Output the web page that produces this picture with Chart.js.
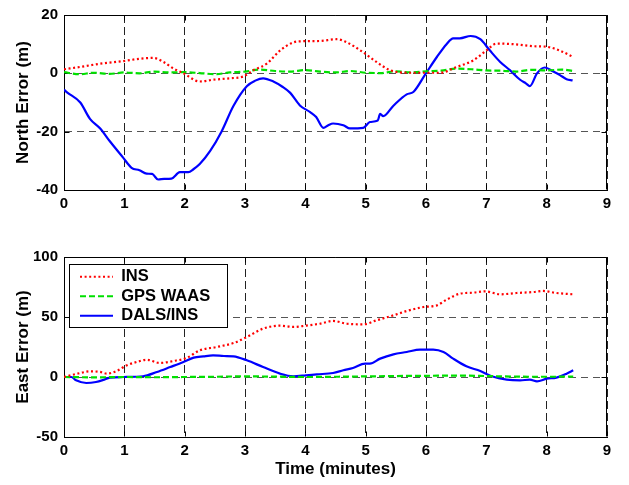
<!DOCTYPE html>
<html>
<head>
<meta charset="utf-8">
<script src="https://cdn.jsdelivr.net/npm/chart.js@4.4.1/dist/chart.umd.min.js"></script>
<style>
  html, body { margin: 0; padding: 0; background: #fff; }
  #wrap { position: relative; width: 629px; height: 485px; }
  #topBox { position: absolute; left: 0; top: 0; width: 629px; height: 230px; }
  #botBox { position: absolute; left: 0; top: 230px; width: 629px; height: 255px; }
</style>
</head>
<body>
<div id="wrap">
  <div id="topBox"><canvas id="northChart" width="629" height="230"></canvas></div>
  <div id="botBox"><canvas id="eastChart" width="629" height="255"></canvas></div>
</div>
<script>
// ---- data (time in minutes, errors in metres) ----
const labels = ['INS', 'GPS WAAS', 'DALS/INS'];

// North error
const northInsT = [0, 0.27, 0.6, 0.98, 1.26, 1.48, 1.65, 1.81, 1.98, 2.25, 2.47, 2.75, 2.97, 3.14, 3.36, 3.58, 3.8, 3.95, 4.24, 4.52, 4.69, 4.96, 5.18, 5.4, 5.68, 6.01, 6.23, 6.51, 6.78, 7.0, 7.17, 7.45, 7.78, 8.0, 8.22, 8.44];
const northIns = [1.4, 2.2, 3.3, 4.2, 5, 5.3, 3.9, 1.7, 0, -2.8, -2.2, -1.7, -1.1, 1.1, 3.3, 7.8, 10.6, 11, 11.1, 11.7, 10.6, 7.2, 3.9, 1.1, 0.2, 0.2, 0.2, 2.2, 4.4, 7.8, 10.2, 10, 9.3, 9.1, 7.8, 5.6];

const northWaasT = [0, 0.25, 0.5, 0.75, 1.0, 1.25, 1.5, 1.75, 2.0, 2.25, 2.5, 2.75, 3.0, 3.25, 3.5, 3.75, 4.0, 4.25, 4.5, 4.75, 5.0, 5.25, 5.5, 5.75, 6.0, 6.25, 6.5, 6.75, 7.0, 7.25, 7.5, 7.75, 8.0, 8.25, 8.44];
const northWaas = [0.4, -0.3, 0.2, -0.2, 0.3, 0, 0.6, 0.3, 0.4, 0.1, -0.3, 0.3, 0.6, 1.3, 0.8, 0.6, 1.1, 0.6, 0.3, 0.8, 0.2, 0.1, 0.7, 0.3, 0.7, 0.9, 1.6, 1.4, 1.0, 0.9, 0.6, 1.2, 1.0, 1.3, 0.8];

const northDalsT = [0, 0.05, 0.27, 0.43, 0.6, 0.76, 0.98, 1.12, 1.25, 1.37, 1.46, 1.56, 1.66, 1.78, 1.92, 2.06, 2.15, 2.25, 2.42, 2.61, 2.81, 3.03, 3.17, 3.3, 3.47, 3.62, 3.75, 3.91, 4.08, 4.18, 4.3, 4.38, 4.46, 4.63, 4.74, 4.96, 5.07, 5.2, 5.24, 5.29, 5.46, 5.68, 5.79, 5.98, 6.18, 6.34, 6.45, 6.56, 6.74, 6.9, 7.06, 7.23, 7.39, 7.56, 7.66, 7.72, 7.84, 7.97, 8.11, 8.22, 8.33, 8.43];
const northDals = [-5.6, -6.5, -10, -15.6, -18.9, -23.3, -28.9, -32.4, -33.2, -34.4, -34.5, -36.4, -36.2, -36.1, -33.9, -33.9, -32.8, -31.1, -26.7, -20, -11.1, -4.4, -2.5, -1.7, -2.8, -4.6, -6.7, -11, -13.3, -15, -18.7, -17.8, -17.2, -17.8, -18.9, -18.7, -16.7, -16.2, -13.9, -14.7, -11.1, -7.2, -6.4, -0.6, 5.6, 10, 12, 12, 12.8, 11.7, 7.8, 3.9, 1.1, -2.2, -3.5, -4.4, 0, 2, 0.6, -0.6, -2, -2.4];

// East error
const eastInsT = [0, 0.27, 0.43, 0.6, 0.71, 0.87, 1.04, 1.26, 1.37, 1.59, 1.81, 2.03, 2.25, 2.53, 2.81, 3.03, 3.3, 3.58, 3.8, 4.01, 4.24, 4.46, 4.69, 4.96, 5.18, 5.46, 5.68, 5.96, 6.18, 6.34, 6.56, 6.78, 6.98, 7.23, 7.5, 7.78, 7.94, 8.16, 8.44];
const eastIns = [0, 3.3, 4.7, 4.2, 2.8, 5, 9.7, 13.3, 14.4, 11.7, 13.3, 15.8, 22.2, 25, 28.3, 33.3, 40.3, 42.8, 41.7, 42.8, 44.4, 46.7, 44.4, 43.9, 47.2, 51.4, 55, 58.3, 59.7, 64.4, 69.4, 70.3, 71.4, 68.9, 70, 70.8, 71.7, 70, 68.9];

const eastWaasT = [0, 0.5, 1, 1.5, 2, 2.5, 3, 3.5, 4, 4.5, 5, 5.5, 6, 6.5, 7, 7.5, 8, 8.44];
const eastWaas = [0, -0.3, 0, -0.2, 0, 0.2, 0.5, 0.3, 0, 0.2, 0.5, 0.8, 1, 1.2, 0.8, 0.3, 0.2, 0.3];

const eastDalsT = [0, 0.12, 0.2, 0.37, 0.53, 0.65, 0.76, 0.98, 1.31, 1.54, 1.76, 1.98, 2.15, 2.31, 2.47, 2.65, 2.81, 3.03, 3.3, 3.58, 3.8, 4.01, 4.19, 4.46, 4.63, 4.79, 4.99, 5.07, 5.24, 5.46, 5.68, 5.9, 6.12, 6.29, 6.45, 6.67, 6.9, 7.09, 7.34, 7.56, 7.72, 7.84, 8.0, 8.16, 8.33, 8.44];
const eastDals = [0, 0, -2.8, -5, -4.2, -2.5, -0.5, 0, 0.6, 4.2, 8.3, 12.5, 16.1, 17.2, 18, 17.5, 17.2, 13.9, 8.3, 2.8, 0.6, 1.4, 2.2, 3.3, 5.6, 7.5, 11.1, 11.1, 15.3, 18.9, 20.8, 22.8, 22.8, 20.8, 15.3, 8.9, 5, 0.6, -2.2, -2.8, -2.2, -3.6, -1.4, -0.5, 2.8, 5.6];

const xTicksMax = 9;

// ---- helpers ----
Chart.defaults.font.family = "'Liberation Sans', Arial, sans-serif";
Chart.defaults.color = '#000';

const pts = (ts, vs) => ts.map((t, i) => ({ x: t, y: vs[i] }));

function makeSets(insT, ins, waasT, waas, dalsT, dals) {
  const base = { pointRadius: 0, fill: false, cubicInterpolationMode: 'monotone', borderWidth: 2.2 };
  return [
    Object.assign({ label: labels[0], data: pts(insT, ins), borderColor: '#ff0000', backgroundColor: '#ff0000', borderDash: [2, 2.6], borderCapStyle: 'butt' }, base),
    Object.assign({ label: labels[1], data: pts(waasT, waas), borderColor: '#00e000', backgroundColor: '#00e000', borderDash: [6, 3] }, base),
    Object.assign({ label: labels[2], data: pts(dalsT, dals), borderColor: '#0000ff', backgroundColor: '#0000ff' }, base)
  ];
}

// box around the plot plus inward tick marks, like the original figure
const frame = {
  id: 'frame',
  beforeDatasetsDraw(chart) {
    const { ctx, chartArea: a, scales } = chart;
    const L = Math.round(a.left) + 0.5, R = Math.round(a.right) - 0.5;
    const T = Math.round(a.top) + 0.5, B = Math.round(a.bottom) - 0.5;
    ctx.save();
    ctx.strokeStyle = '#000';
    ctx.lineWidth = 1;
    ctx.setLineDash([]);
    ctx.beginPath();
    ctx.moveTo(L, T); ctx.lineTo(R, T); ctx.lineTo(R, B);
    scales.x.ticks.forEach(t => {
      const px = Math.round(scales.x.getPixelForValue(t.value)) + 0.5;
      ctx.moveTo(px, B); ctx.lineTo(px, B - 5);
      ctx.moveTo(px, T); ctx.lineTo(px, T + 5);
    });
    scales.y.ticks.forEach(t => {
      const py = Math.round(scales.y.getPixelForValue(t.value)) + 0.5;
      ctx.moveTo(L, py); ctx.lineTo(L + 5, py);
      ctx.moveTo(R, py); ctx.lineTo(R - 5, py);
    });
    ctx.stroke();
    ctx.restore();
  }
};

// legend placed inside the plot, white background and a thin border
const legendBox = {
  id: 'legendBox',
  afterLayout(chart) {
    const lg = chart.legend;
    if (!lg) return;
    const a = chart.chartArea;
    lg.left = a.left + 13;
    lg.top = a.top + 8.5;
    lg.right = lg.left + 150;
    lg.bottom = lg.top + 70;
    lg.width = 150;
    lg.height = 70;
  },
  beforeDatasetsDraw(chart) {
    const lg = chart.legend;
    if (!lg) return;
    const a = chart.chartArea;
    const ctx = chart.ctx;
    const x = Math.round(a.left) + 5.5, y = Math.round(a.top) + 7.5;
    ctx.save();
    ctx.fillStyle = '#fff';
    ctx.fillRect(x, y, 158, 63);
    ctx.strokeStyle = '#000';
    ctx.lineWidth = 1;
    ctx.setLineDash([]);
    ctx.strokeRect(x, y, 158, 63);
    ctx.restore();
    lg.draw();
  }
};

function makeOptions(yMin, yMax, yStep, yTitle, xHeight, padTop, withXTitle, withLegend) {
  return {
    responsive: false,
    animation: false,
    devicePixelRatio: 1,
    layout: { padding: { left: 0, right: 22, top: padTop, bottom: 0 } },
    plugins: {
      tooltip: { enabled: false },
      legend: withLegend ? {
        display: true,
        position: 'chartArea',
        align: 'start',
        labels: {
          usePointStyle: true,
          pointStyleWidth: 33,
          padding: 3,
          font: { size: 16.5, weight: 'bold' },
          color: '#000',
          generateLabels: (chart) => chart.data.datasets.map((ds, i) => ({
            text: ds.label,
            fillStyle: ds.borderColor,
            strokeStyle: ds.borderColor,
            lineWidth: ds.borderWidth,
            lineDash: ds.borderDash || [],
            lineCap: 'butt',
            pointStyle: 'line',
            fontColor: '#000',
            hidden: false,
            datasetIndex: i
          }))
        }
      } : { display: false }
    },
    scales: {
      x: {
        type: 'linear',
        min: 0,
        max: xTicksMax,
        ticks: { stepSize: 1, padding: 5, font: { size: 15, weight: 'bold' }, color: '#000' },
        grid: { color: '#222', lineWidth: 1, drawTicks: false },
        border: { display: true, color: '#000', width: 1, dash: [8, 4] },
        title: withXTitle ? { display: true, text: 'Time (minutes)', font: { size: 17, weight: 'bold' }, color: '#000', padding: { top: 0, bottom: 5 } } : { display: false },
        afterFit: (s) => { s.height = xHeight; }
      },
      y: {
        min: yMin,
        max: yMax,
        ticks: { stepSize: yStep, padding: 6, font: { size: 15, weight: 'bold' }, color: '#000' },
        grid: { color: '#555', lineWidth: 1, drawTicks: false },
        border: { display: true, color: '#000', width: 1, dash: [7, 5] },
        title: { display: true, text: yTitle, font: { size: 17, weight: 'bold' }, color: '#000', padding: { top: 13, bottom: 0 } },
        afterFit: (s) => { s.width = 64; }
      }
    }
  };
}

new Chart(document.getElementById('northChart'), {
  type: 'line',
  data: { datasets: makeSets(northInsT, northIns, northWaasT, northWaas, northDalsT, northDals) },
  options: makeOptions(-40, 20, 20, 'North Error (m)', 40, 10, false, false),
  plugins: [frame]
});

new Chart(document.getElementById('eastChart'), {
  type: 'line',
  data: { datasets: makeSets(eastInsT, eastIns, eastWaasT, eastWaas, eastDalsT, eastDals) },
  options: makeOptions(-50, 100, 50, 'East Error (m)', 48, 27, true, true),
  plugins: [frame, legendBox]
});
</script>
</body>
</html>
